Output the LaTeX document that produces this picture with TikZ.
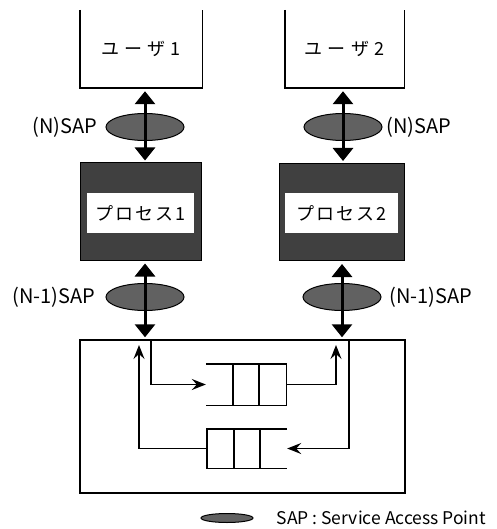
\documentclass[tikz,border=0pt]{standalone}
\usepackage{fontspec}
\setmainfont{Noto Sans CJK JP}
\usetikzlibrary{positioning,arrows.meta,shapes.geometric,calc}
\tikzset{
  userbox/.style={minimum height=78pt, inner sep=0pt,
                  font=\fontsize{18}{21}\selectfont\addfontfeature{LetterSpace=30}},
  procbox/.style={draw=black, fill=black!75, line width=1pt, minimum height=97pt, inner sep=0pt},
  proclbl/.style={fill=white, minimum height=40pt, inner sep=0pt,
                  font=\fontsize{18}{21}\selectfont\addfontfeature{LetterSpace=12}},
  sap/.style={ellipse, draw=black, line width=1pt, fill=black!62,
              minimum width=78pt, minimum height=27pt, inner sep=0pt},
  saplbl/.style={font=\fontsize{20}{24}\selectfont, inner sep=0pt},
  link/.style={{Triangle[width=20pt,length=13pt]}-{Triangle[width=20pt,length=13pt]},
               line width=3pt, shorten <=3pt, shorten >=2pt},
  flow/.style={-{Stealth[length=14pt,width=11pt,inset=5pt]}, line width=1.4pt},
  wall/.style={line width=1.4pt},
  queue/.style={minimum width=80pt, inner sep=0pt},
}

\begin{document}
\begin{tikzpicture}[x=1pt, y=-1pt]
\useasboundingbox (0,0) rectangle (496,529);

%% users, open at the top
\node[userbox, minimum width=122pt] (user1) at (141,49)   {ユーザ1};
\node[userbox, minimum width=119pt] (user2) at (344.5,49) {ユーザ2};
\foreach \u in {user1,user2}
  \draw[wall] (\u.north west) -- (\u.south west) -- (\u.south east) -- (\u.north east);

%% processes
\node[procbox, minimum width=121pt] (proc1) at (140.5,211.5) {};
\node[procbox, minimum width=125pt] (proc2) at (341.5,212)   {};
\node[proclbl, minimum width=107pt] (proc1t) at ($(proc1)+(0,1.5)$) {プロセス1};
\node[proclbl, minimum width=113pt] (proc2t) at ($(proc2)+(0,1)$)   {プロセス2};

%% lower layer
\node[draw, wall, minimum width=325pt, minimum height=153pt, inner sep=0pt]
  (sys) at (242.5,416.5) {};

%% service access points
\node[sap] (nsap1) at (145,127) {};
\node[sap] (nsap2) at (343,127) {};
\node[sap] (lsap1) at (145,297) {};
\node[sap] (lsap2) at (342,297) {};
\node[saplbl, left=8pt of nsap1]  {(N)SAP};
\node[saplbl, right=4pt of nsap2] {(N)SAP};
\node[saplbl, left=10pt of lsap1] {(N-1)SAP};
\node[saplbl, right=8pt of lsap2] {(N-1)SAP};

\draw[link] (user1.south -| nsap1) -- (proc1.north -| nsap1);
\draw[link] (user2.south -| nsap2) -- (proc2.north -| nsap2);
\draw[link] (proc1.south -| lsap1) -- (sys.north -| lsap1);
\draw[link] (proc2.south -| lsap2) -- (sys.north -| lsap2);

%% queues: q1 open on the left, q2 open on the right
\node[queue, minimum height=41pt] (q1) at (246,384.5) {};
\node[queue, minimum height=39pt] (q2) at (247,448.5) {};
\draw[wall] (q1.north west) -- (q1.north east) -- (q1.south east) -- (q1.south west);
\draw[wall] (q2.north east) -- (q2.north west) -- (q2.south west) -- (q2.south east);
\foreach \q in {q1,q2}
  \foreach \f in {0.34,0.66}
    \draw[wall] ($(\q.north west)!\f!(\q.north east)$) -- ($(\q.south west)!\f!(\q.south east)$);

\coordinate (inA)  at (151,340);
\coordinate (outA) at (336,345);
\coordinate (inB)  at (349,340);
\coordinate (outB) at (139,345);
\draw[flow] (inA) |- (q1.west);
\draw[flow] (q1.east) -| (outA);
\draw[flow] (inB) |- (q2.east);
\draw[flow] (q2.west) -| (outB);

%% key
\node[sap, minimum width=52pt, minimum height=9pt] (key) at (227,518) {};
\node[font=\fontsize{17.5}{21}\selectfont, inner sep=0pt, right=23pt of key] (keyt)
  {SAP : Service Access Point};
\end{tikzpicture}
\end{document}
